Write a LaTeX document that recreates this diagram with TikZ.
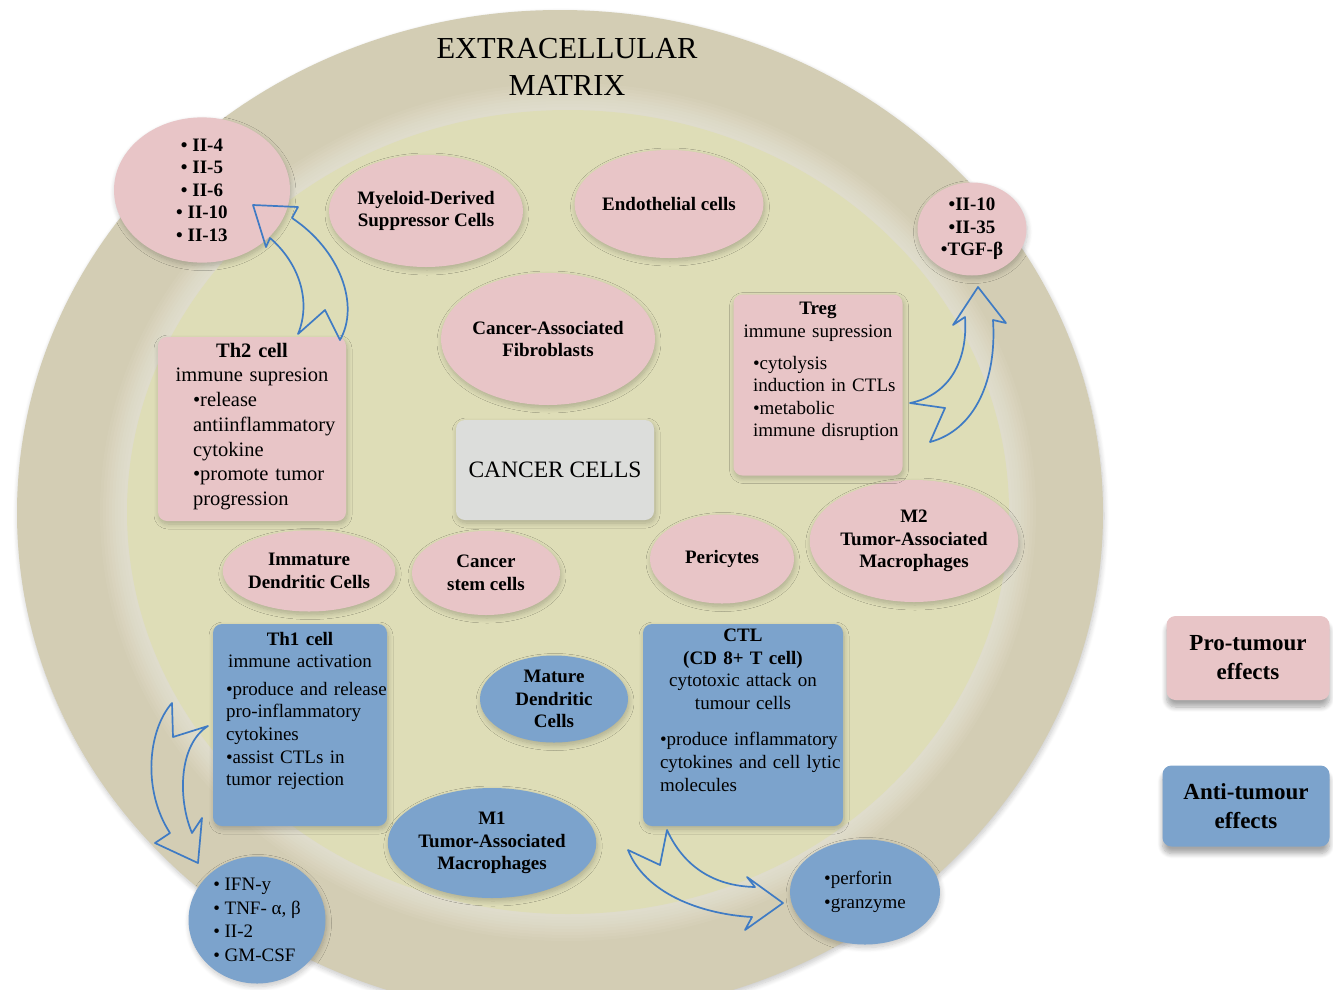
\documentclass[tikz,border=0pt]{standalone}
\usepackage{fontspec}
\setmainfont{Liberation Serif}
\usepackage{xcolor}
\usepackage{tikz}
\usetikzlibrary{shapes.geometric, positioning, shadows.blur}
\definecolor{ringfill}{HTML}{D3CDB4}
\definecolor{corefill}{HTML}{DEDDB7}
\definecolor{profill}{HTML}{E8C5C7}
\definecolor{antifill}{HTML}{7CA3CC}
\definecolor{tumfill}{HTML}{DCDDDB}
\definecolor{arrdraw}{HTML}{3F7BC4}
\tikzset{
  soft/.style={blur shadow={shadow xshift=1pt, shadow yshift=-3pt, shadow blur radius=5pt, shadow blur steps=8, shadow opacity=22}},
  deep/.style={blur shadow={shadow xshift=0pt, shadow yshift=-7pt, shadow blur radius=5pt, shadow blur steps=8, shadow opacity=35}},
  cell/.style={ellipse, soft, inner sep=0pt, align=center, font=\fontsize{19}{22.5}\selectfont\bfseries},
  plain/.style={font=\fontsize{19}{23.5}\selectfont},
  pro/.style={fill=profill},
  anti/.style={fill=antifill},
  panel/.style={rectangle, rounded corners=9pt, soft},
  ptext/.style={inner sep=0pt, font=\fontsize{19}{22.6}\selectfont},
  legend/.style={rectangle, rounded corners=9pt, deep, align=center, font=\fontsize{23}{29}\selectfont\bfseries},
  title/.style={align=center, font=\fontsize{30.5}{37}\selectfont},
  swoop/.style={draw=arrdraw, line width=1.7pt, line join=round},
}

\begin{document}
\begin{tikzpicture}[x=1pt, y=-1pt, node distance=6pt]
  \useasboundingbox (0,0) rectangle (1333,989);
  % matrix ring with a soft glow along the core
  \fill[ringfill, soft] (560,513) ellipse [x radius=543pt, y radius=503pt];
  \foreach \g in {27,24,...,3}
    \fill[white, opacity=.05] (568,512) ellipse [x radius=441pt+\g pt, y radius=402pt+\g pt];
  \fill[corefill] (568,512) ellipse [x radius=441pt, y radius=402pt];

  \node[title] (ecm) at (567,67) {EXTRACELLULAR\\MATRIX};

  \node[cell, pro, minimum width=176pt, minimum height=136pt] (ilfour) at (202,190) {• II-4\\• II-5\\• II-6\\• II-10\\• II-13};
  \node[cell, pro, minimum width=163pt, minimum height=112pt] (mdsc) at (426,211) {Myeloid-Derived\\Suppressor Cells};
  \node[cell, pro, minimum width=162pt, minimum height=108pt] (endo) at (669,204) {Endothelial cells};
  \node[cell, pro, minimum width=109pt, minimum height=93pt] (tgf) at (972,229) {•II-10\\•II-35\\•TGF-β};
  \node[cell, pro, minimum width=198pt, minimum height=132pt] (caf) at (548,339) {Cancer-Associated\\Fibroblasts};
  \node[cell, pro, minimum width=173pt, minimum height=122pt] (mtwo) at (914,541) {M2\\Tumor-Associated\\Macrophages};
  \node[cell, pro, minimum width=138pt, minimum height=81pt] (idc) at (309,571) {Immature\\Dendritic Cells};
  \node[cell, pro, minimum width=148pt, minimum height=84pt] (csc) at (486,573) {Cancer\\stem cells};
  \node[cell, pro, minimum width=144pt, minimum height=89pt] (peri) at (722,559) {Pericytes};
  \node[cell, anti, minimum width=148pt, minimum height=87pt] (mdc) at (554,699) {Mature\\Dendritic\\Cells};
  \node[cell, anti, minimum width=153pt, minimum height=110pt] (mone) at (492,843) {M1\\Tumor-Associated\\Macrophages};
  \node[cell, anti, plain, align=left, minimum width=137pt, minimum height=127pt] (ifn) at (257,920) {• IFN-y\\• TNF- α, β\\• II-2\\• GM-CSF};
  \node[cell, anti, plain, align=left, minimum width=150pt, minimum height=105pt] (perf) at (865,892) {•perforin\\•granzyme};

  \node[panel, fill=tumfill, minimum width=198pt, minimum height=100pt, font=\fontsize{23.5}{28}\selectfont] (tumour) at (555,470) {CANCER CELLS};

  \node[panel, pro, minimum width=188pt, minimum height=184pt] (thtwo) at (252,429) {};
  \node[ptext, text width=174pt, below=6pt of thtwo.north, font=\fontsize{20.5}{24.7}\selectfont] (thtwotxt) {{\centering\textbf{Th2 cell}\\immune supresion\par}
    {\raggedright\leftskip=28pt •release\\antiinflammatory\\cytokine\\•promote tumor\\progression\par}};

  \node[panel, pro, minimum width=169pt, minimum height=181pt] (treg) at (818,385) {};
  \node[ptext, text width=168pt, below=8pt of treg.north] (tregtxt) {{\centering\textbf{Treg}\\immune supression\par}\vspace{9pt}
    {\raggedright\leftskip=19pt •cytolysis\\induction in CTLs\\•metabolic\\immune disruption\par}};

  \node[panel, anti, minimum width=174pt, minimum height=202pt] (thone) at (300,725) {};
  \node[ptext, text width=190pt, below=8pt of thone.north] (thonetxt) {{\centering\textbf{Th1 cell}\\immune activation\par}\vspace{5pt}
    {\raggedright\leftskip=21pt •produce and release\\pro-inflammatory\\cytokines\\•assist CTLs in\\tumor rejection\par}};

  \node[panel, anti, minimum width=200pt, minimum height=202pt] (ctl) at (743,725) {};
  \node[ptext, text width=198pt, below=5pt of ctl.north] (ctltxt) {{\centering\textbf{CTL}\\\textbf{(CD 8+ T cell)}\\cytotoxic attack on\\tumour cells\par}\vspace{14pt}
    {\raggedright\leftskip=16pt •produce inflammatory\\cytokines and cell lytic\\molecules\par}};

  \node[legend, pro, minimum width=163pt, minimum height=84pt] (keypro) at (1248,658) {Pro-tumour\\effects};
  \node[legend, anti, minimum width=167pt, minimum height=81pt] (keyanti) at (1246,806) {Anti-tumour\\effects};

  % release arrows
  \draw[swoop] (298,334) .. controls (312,300) and (298,262) .. (270,238) -- (266,247) -- (253,205) -- (298,207) -- (292,218) .. controls (340,250) and (360,305) .. (340,340) -- (325,310) -- cycle;
  \draw[swoop] (910,403) .. controls (950,395) and (968,360) .. (965,317) -- (953,325) -- (978,287) -- (1006,323) -- (993,320) .. controls (997,380) and (975,430) .. (930,442) -- (945,408) -- cycle;
  \draw[swoop] (172,703) .. controls (148,730) and (142,790) .. (170,833) -- (155,843) -- (198,863) -- (202,818) -- (192,833) .. controls (178,800) and (178,745) .. (208,726) -- (173,737) -- cycle;
  \draw[swoop] (667,830) .. controls (683,865) and (712,886) .. (755,887) -- (747,877) -- (783,903) -- (745,930) -- (752,917) .. controls (700,914) and (645,893) .. (628,850) -- (660,865) -- cycle;
\end{tikzpicture}
\end{document}
